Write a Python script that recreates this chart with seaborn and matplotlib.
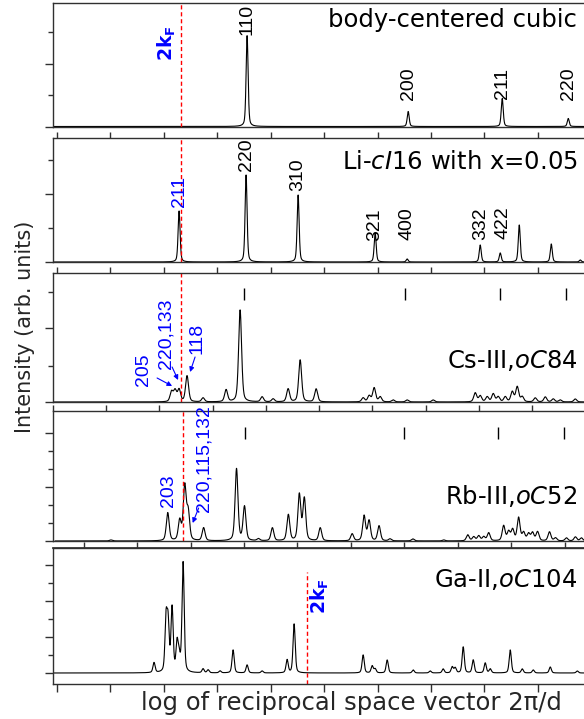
import numpy as np
import pandas as pd
import matplotlib
matplotlib.use("Agg")
import matplotlib.pyplot as plt
import seaborn as sns
from matplotlib import font_manager as fm
from matplotlib.ticker import FixedLocator

# ---------------- data (x in log-q tick units, intensities arb.) ----------------
bcc_pos = [3.558, 6.573, 8.333, 9.569]
bcc_int = [91, 15, 28, 8]
bcc_hkl = ["110", "200", "211", "220"]

li_pos = [2.285, 3.539, 4.513, 5.955, 6.554, 7.921, 8.296, 8.652, 9.251, 9.794]
li_int = [51, 87, 67, 29, 3, 17, 9, 37, 18, 2]
li_hkl = ["211", "220", "310", "321", "400", "332", "422"]

cs_pos = [2.144, 2.210, 2.285, 2.434, 2.734, 3.165, 3.427, 3.839, 4.045, 4.326, 4.551,
          4.850, 5.730, 5.843, 5.936, 6.049, 6.292, 6.554, 7.041, 7.828, 7.921, 8.052,
          8.165, 8.258, 8.390, 8.521, 8.614, 8.708, 8.951, 9.139, 9.288, 9.419, 9.700]
cs_int = [10, 11, 12, 26, 4, 12, 92, 5, 3, 13, 42,
          13, 4, 6, 14, 5, 2, 2, 2, 9, 6, 5,
          8, 5, 5, 10, 15, 5, 4, 5, 3, 2, 3]
cs_hkl = ["205", "220,133", "118"]

rb_pos = [0.974, 2.041, 2.266, 2.360, 2.425, 2.715, 3.333, 3.483, 3.745, 4.007, 4.307,
          4.513, 4.607, 4.906, 5.506, 5.730, 5.824, 6.011, 6.217, 6.648, 7.228, 7.678,
          7.790, 7.884, 7.978, 8.071, 8.352, 8.446, 8.521, 8.633, 8.727, 8.820, 8.895,
          8.989, 9.213, 9.326, 9.532, 9.700, 9.813]
rb_int = [1, 28, 20, 54, 28, 13, 72, 34, 2, 13, 26,
          46, 42, 13, 7, 25, 20, 15, 2, 2, 1, 6,
          4, 5, 4, 8, 15, 9, 11, 23, 8, 7, 8,
          9, 9, 3, 3, 4, 3]
rb_hkl = ["203", "220,115,132"]

ga_pos = [1.816, 2.041, 2.079, 2.154, 2.247, 2.285, 2.360, 2.734, 2.828, 3.052, 3.296,
          3.558, 3.839, 4.307, 4.438, 5.730, 5.899, 5.955, 6.180, 6.667, 6.985, 7.228,
          7.397, 7.453, 7.603, 7.790, 8.015, 8.109, 8.483, 8.708, 8.914, 9.232, 9.738]
ga_int = [10, 52, 47, 64, 28, 15, 110, 4, 3, 2, 23,
          8, 2, 13, 49, 18, 7, 4, 13, 3, 2, 4,
          6, 5, 26, 13, 10, 4, 23, 4, 3, 6, 2]

licI16_marks = [3.502, 6.517, 8.296, 9.532]     # reference marks in Cs-III
licI16_marks_rb = [3.483, 6.479, 8.240, 9.494]  # reference marks in Rb-III
kf2_all = 2.33      # 2kF for the first structures
kf2_ga = 4.682      # 2kF for Ga-II

titles = ["body-centered cubic", r"Li-$\mathit{cI}$16 with x=0.05",
          r"Cs-III,$\mathit{oC}$84", r"Rb-III,$\mathit{oC}$52", r"Ga-II,$\mathit{oC}$104"]

# ---------------- style ----------------
sns.set_theme(style="ticks")
plt.rcParams["font.family"] = ["DejaVu Sans"]
plt.rcParams["mathtext.fontset"] = "dejavusans"
names = {f.name for f in fm.fontManager.ttflist}
NARROW = "Liberation Sans Narrow" if "Liberation Sans Narrow" in names else "Liberation Sans"
NSIZE = 15 if NARROW == "Liberation Sans Narrow" else 14

W, H = 584, 719
fig = plt.figure(figsize=(W / 100, H / 100), dpi=100)
XL = (-0.075, 10.35)
SPC = "#303030"

def rect(top, bot):
    return [53 / W, 1 - bot / H, (610 - 53) / W, (bot - top) / H]

grid = np.arange(XL[0], XL[1], 0.002)

def profile(pos, amp, w):
    y = np.zeros_like(grid)
    for p, a in zip(pos, amp):
        d = (grid - p) / w
        y += a * (0.4 / (1 + d * d) + 0.6 * np.exp(-np.log(2) * d * d))
    return y

panels = [
    dict(top=3, bot=126.5, yl=(0, 123.5), pos=bcc_pos, amp=bcc_int, w=0.022,
         ymaj=[0, 63], ymin=[31.5, 94.5], xt=None, ty=100),
    dict(top=138, bot=262, yl=(0, 124), pos=li_pos, amp=li_int, w=0.022,
         ymaj=[0, 68], ymin=[34, 102], xt=0.0, ty=93),
    dict(top=273, bot=402, yl=(0, 129), pos=cs_pos, amp=cs_int, w=0.033,
         ymaj=[0, 74], ymin=[36, 110], xt=0.0, ty=34),
    dict(top=411, bot=541, yl=(0, 130), pos=rb_pos, amp=rb_int, w=0.032,
         ymaj=[0, 54, 108], ymin=[18, 36, 72, 90], xt=-0.115, ty=37),
    dict(top=548, bot=684, yl=(-11, 125), pos=ga_pos, amp=ga_int, w=0.024,
         ymaj=[0, 36, 72, 108], ymin=[18, 54, 90], xt=0.5, ty=86),
]

axes = []
for i, p in enumerate(panels):
    ax = fig.add_axes(rect(p["top"], p["bot"]))
    axes.append(ax)
    df = pd.DataFrame({"x": grid, "y": profile(p["pos"], p["amp"], p["w"])})
    sns.lineplot(data=df, x="x", y="y", ax=ax, color="black", lw=0.8,
                 estimator=None, sort=False)
    ax.set_xlim(*XL)
    ax.set_ylim(*p["yl"])
    ax.set_xlabel("")
    ax.set_ylabel("")
    ax.spines["right"].set_visible(False)
    for s in ["left", "top", "bottom"]:
        ax.spines[s].set_color(SPC)
        ax.spines[s].set_linewidth(1.0)
    ax.yaxis.set_major_locator(FixedLocator(p["ymaj"]))
    ax.yaxis.set_minor_locator(FixedLocator(p["ymin"]))
    ax.tick_params(axis="y", which="major", left=True, right=False, direction="out",
                   length=6, width=1.0, color=SPC, labelleft=False)
    ax.tick_params(axis="y", which="minor", left=True, right=False, direction="out",
                   length=3.5, width=1.0, color=SPC)
    if p["xt"] is None:
        ax.set_xticks([])
    elif i < 4:
        ax.set_xticks(np.arange(0, 11) + p["xt"])
        ax.tick_params(axis="x", which="major", top=True, bottom=False,
                       direction="out", length=4, width=1.0, color=SPC,
                       labelbottom=False, labeltop=False)
    else:
        ax.set_xticks(np.arange(0, 11))
        ax.tick_params(axis="x", which="major", top=False, bottom=True, direction="out",
                       length=5.5, width=1.0, color=SPC, labelbottom=False)
        sec = ax.secondary_xaxis("top")
        sec.set_xticks(np.arange(0, 11) + p["xt"])
        sec.tick_params(axis="x", direction="out", length=4, width=1.0, color=SPC,
                        labeltop=False)
        sec.spines["top"].set_color(SPC)
    ax.text(9.738, p["ty"], titles[i], ha="right", va="baseline", fontsize=17.5,
            color="black")
    ax.patch.set_alpha(0)

ax1, ax2, ax3, ax4, ax5 = axes

# 2kF lines
red = dict(color="red", ls=(0, (3, 2)), lw=1.0)
for ax in axes[:4]:
    ax.axvline(kf2_all, **red)
ax5.axvline(kf2_ga, ymin=0, ymax=(684 - 572) / (684 - 548), **red)
kf_kw = dict(rotation=90, ha="center", va="center", color="blue", fontsize=13.5)
ax1.text(2.06, 83, r"$\mathbf{2k}_\mathbf{F}$", **kf_kw)
ax5.text(4.925, 77, r"$\mathbf{2k}_\mathbf{F}$", **kf_kw)

# hkl labels
lab = dict(rotation=90, ha="center", va="center", family=NARROW, fontsize=NSIZE)
for xp, yp, s in zip(bcc_pos, [107, 43, 43, 43], bcc_hkl):
    ax1.text(xp, yp, s, color="black", **lab)
li_lab_x = [2.285, 3.539, 4.513, 5.955, 6.554, 7.921, 8.352]
li_lab_y = [71, 107.5, 87.5, 37.5, 38.5, 38.5, 39.5]
for j, (xp, yp, s) in enumerate(zip(li_lab_x, li_lab_y, li_hkl)):
    ax2.text(xp, yp, s, color="blue" if j == 0 else "black", **lab)

for ax, xs in [(ax3, licI16_marks), (ax4, licI16_marks_rb)]:
    ax.vlines(xs, 102, 114, color="black", lw=1.0)

blab = dict(lab, color="blue")
ax3.text(1.610, 32, cs_hkl[0], **blab)
ax3.text(2.041, 68.5, cs_hkl[1], **blab)
ax3.text(2.622, 63.5, cs_hkl[2], **blab)
arr = dict(arrowstyle="-|>", color="blue", lw=0.8, mutation_scale=7, shrinkA=0, shrinkB=0)
ax3.annotate("", xy=(2.154, 16), xytext=(1.873, 24), arrowprops=arr)
ax3.annotate("", xy=(2.266, 22), xytext=(2.154, 35), arrowprops=arr)
ax3.annotate("", xy=(2.491, 30), xytext=(2.584, 45), arrowprops=arr)

ax4.text(2.060, 50, rb_hkl[0], **blab)
ax4.text(2.715, 82.5, rb_hkl[1], **blab)
ax4.annotate("", xy=(2.509, 18), xytext=(2.622, 33), arrowprops=arr)

fig.text(25 / W, 1 - 327 / H, "Intensity (arb. units)", rotation=90, ha="center",
         va="center", fontsize=15)
fig.text(351 / W, 1 - 710 / H, "log of reciprocal space vector 2\u03c0/d", ha="center",
         va="baseline", fontsize=17.5)

fig.savefig("out.png", dpi=100)
